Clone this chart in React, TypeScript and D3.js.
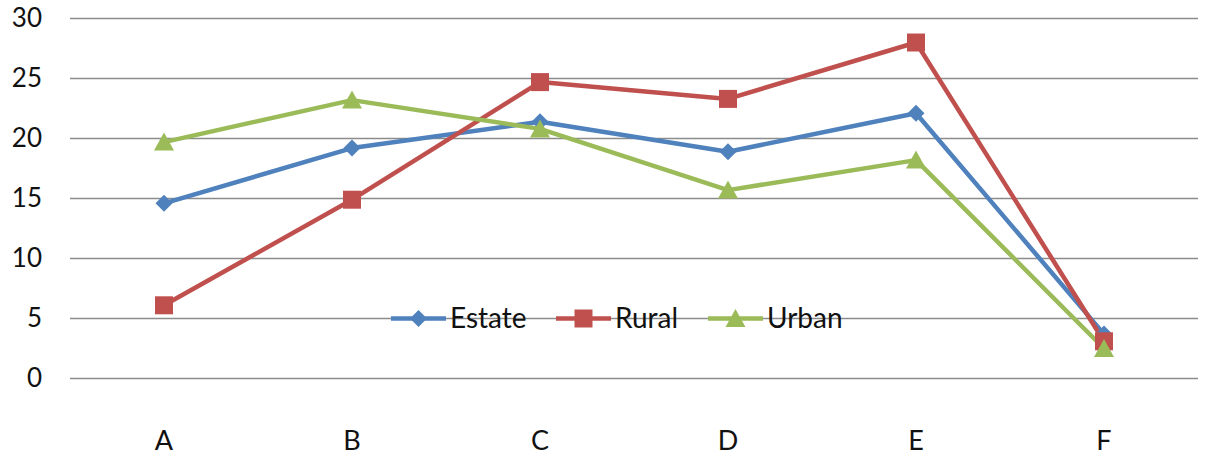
import { useEffect, useRef } from 'react'
import * as d3 from 'd3'

const categories = ['A', 'B', 'C', 'D', 'E', 'F']
const seriesNames = ['Estate', 'Rural', 'Urban']
const estate = [14.6, 19.2, 21.4, 18.9, 22.1, 3.7]
const rural = [6.1, 14.9, 24.7, 23.3, 28.0, 3.1]
const urban = [19.7, 23.2, 20.8, 15.7, 18.2, 2.5]
const yTicks = [0, 5, 10, 15, 20, 25, 30]

const colors = ['#4F81BD', '#C0504D', '#9BBB59']
const markers = ['diamond', 'square', 'triangle']

function markerPath(kind: string) {
  if (kind === 'diamond') return 'M0,-8.5L8.5,0L0,8.5L-8.5,0Z'
  if (kind === 'square') return 'M-9,-9H9V9H-9Z'
  return 'M0,-9.5L10,8.5H-10Z'
}

export default function App() {
  const ref = useRef<SVGSVGElement | null>(null)

  useEffect(() => {
    if (!ref.current) return
    const svg = d3.select(ref.current)
    svg.selectAll('*').remove()

    const width = 1214
    const height = 464
    const margin = { top: 18.5, right: 16, bottom: 85.5, left: 70 }
    const font = 'Lato, "Open Sans", sans-serif'

    const x = d3.scaleBand().domain(categories).range([margin.left, width - margin.right])
    const y = d3.scaleLinear().domain([0, 30]).range([height - margin.bottom, margin.top])
    const cx = (c: string) => x(c)! + x.bandwidth() / 2

    // Grid
    svg.append('g')
      .selectAll('line')
      .data(yTicks)
      .join('line')
      .attr('x1', margin.left)
      .attr('x2', width - margin.right)
      .attr('y1', d => y(d))
      .attr('y2', d => y(d))
      .attr('stroke', '#8c8c8c')
      .attr('stroke-width', 1.3)

    // Y labels
    svg.append('g')
      .selectAll('text')
      .data(yTicks)
      .join('text')
      .attr('x', 42)
      .attr('y', d => y(d) - 1)
      .attr('dy', '0.35em')
      .attr('text-anchor', 'end')
      .attr('font-family', font)
      .attr('font-size', 26)
      .attr('fill', '#111')
      .text(d => d)

    // X labels
    svg.append('g')
      .selectAll('text')
      .data(categories)
      .join('text')
      .attr('x', d => cx(d))
      .attr('y', 450)
      .attr('text-anchor', 'middle')
      .attr('font-family', font)
      .attr('font-size', 27)
      .attr('fill', '#111')
      .text(d => d)

    const data = [estate, rural, urban]
    const line = d3.line<number>()
      .x((_, i) => cx(categories[i]))
      .y(d => y(d))

    data.forEach((values, s) => {
      svg.append('path')
        .datum(values)
        .attr('fill', 'none')
        .attr('stroke', colors[s])
        .attr('stroke-width', 4.5)
        .attr('stroke-linejoin', 'round')
        .attr('d', line)
    })

    data.forEach((values, s) => {
      svg.append('g')
        .selectAll('path')
        .data(values)
        .join('path')
        .attr('transform', (d, i) => `translate(${cx(categories[i])},${y(d)})`)
        .attr('d', markerPath(markers[s]))
        .attr('fill', colors[s])
    })

    // Legend
    const legendX = [391, 556, 708]
    const legendY = y(5)
    seriesNames.forEach((name, s) => {
      const g = svg.append('g').attr('transform', `translate(${legendX[s]},${legendY})`)
      g.append('line')
        .attr('x1', 0)
        .attr('x2', 55)
        .attr('stroke', colors[s])
        .attr('stroke-width', 4.5)
      g.append('path')
        .attr('transform', 'translate(27.5,0)')
        .attr('d', markerPath(markers[s]))
        .attr('fill', colors[s])
      g.append('text')
        .attr('x', 59)
        .attr('dy', '0.35em')
        .attr('font-family', font)
        .attr('font-size', 28)
        .attr('fill', '#111')
        .text(name)
    })

    svg.attr('viewBox', `0 0 ${width} ${height}`)
  }, [])

  return (
    <svg
      ref={ref}
      width={1214}
      height={464}
      style={{ position: 'absolute', left: 0, top: 0, background: '#fff' }}
    />
  )
}
